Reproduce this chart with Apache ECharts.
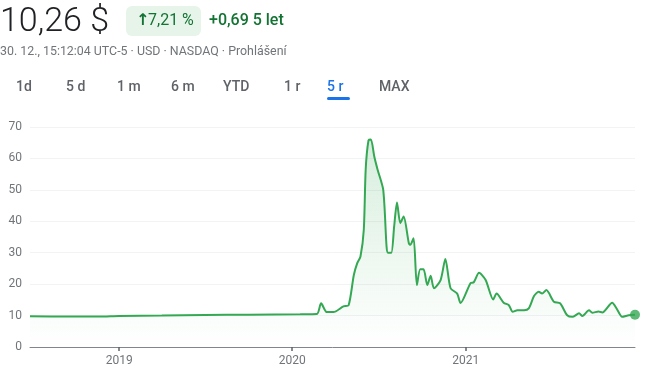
<!DOCTYPE html>
<html><head><meta charset="utf-8">
<script src="https://cdn.jsdelivr.net/npm/echarts@6/dist/echarts.min.js"></script>
<style>html,body{margin:0;padding:0;background:#fff}#c{width:650px;height:376px}</style>
</head><body><div id="c"></div>
<script>
const dates = [
 '2018-06-27','2018-09-15','2018-11-20','2019-01-01','2019-04-01','2019-07-01','2019-10-01','2020-01-18','2020-02-22',
 '2020-03-02','2020-03-14','2020-03-28','2020-04-18','2020-04-29','2020-05-10','2020-05-17','2020-05-24','2020-05-31','2020-06-04',
 '2020-06-10','2020-06-15','2020-06-22','2020-06-29','2020-07-11','2020-07-18','2020-07-21','2020-07-28','2020-08-03','2020-08-09',
 '2020-08-16','2020-08-23','2020-09-03','2020-09-06','2020-09-13','2020-09-20','2020-09-27','2020-10-04','2020-10-12','2020-10-19',
 '2020-10-26','2020-11-09','2020-11-19','2020-11-30','2020-12-14','2020-12-21','2021-01-11','2021-01-18','2021-01-29','2021-02-12',
 '2021-02-28','2021-03-07','2021-03-22','2021-04-02','2021-04-10','2021-04-20','2021-05-04','2021-05-14','2021-05-25','2021-06-04',
 '2021-06-11','2021-06-20','2021-07-06','2021-07-19','2021-08-03','2021-08-14','2021-08-28','2021-09-04','2021-09-18','2021-09-25',
 '2021-10-08','2021-10-16','2021-11-06','2021-11-15','2021-11-27','2021-12-11','2021-12-24'
];
const prices = [
 9.8,9.7,9.7,9.9,10.0,10.2,10.3,10.4,10.5,
 13.9,11.1,11.1,12.9,13.3,22.9,26.6,28.8,37.3,56.5,
 65.8,66.0,60.7,56.5,50.0,32.0,30.0,30.0,38.3,46.0,
 39.4,41.5,33.0,32.5,34.6,19.7,24.7,24.7,19.7,22.7,
 18.7,21.3,28.0,18.7,17.0,14.0,20.3,20.6,23.6,21.3,
 15.1,17.0,14.1,13.3,11.2,11.7,11.7,12.3,16.2,17.6,
 17.0,18.1,14.4,13.9,10.1,9.6,10.7,9.9,11.7,10.9,
 11.3,11.0,14.1,12.3,9.6,10.1,10.26
];
const yearTicks = ['2019-01-01','2020-01-01','2021-01-01'];
const tabs = ['1d','5 d','1 m','6 m','YTD','1 r','5 r','MAX'];
const tabX = [16,66,117,171,223,284,327,379];
const selectedTab = 6;

const toTs = s => { const p = s.split('-').map(Number); return Date.UTC(p[0], p[1]-1, p[2]); };
const series = dates.map((d,i)=>[toTs(d), prices[i]]);
const last = series[series.length-1];
const green = '#34A853';
const font = 'Roboto, Arial, sans-serif';

const graphics = [
 {type:'text', x:0, y:22, style:{text:'10,26 $', font:'300 34px '+font, fill:'#202124', verticalAlign:'middle'}},
 {type:'rect', shape:{x:126,y:6,width:75,height:30,r:6}, style:{fill:'#e6f4ea'}},
 {type:'text', x:136, y:21, style:{text:'↑', font:'700 16px "DejaVu Sans", sans-serif', fill:'#137333', verticalAlign:'middle'}},
 {type:'text', x:148, y:21, style:{text:'7,21 %', font:'400 16px '+font, fill:'#137333', verticalAlign:'middle'}},
 {type:'text', x:209, y:21, style:{text:'+0,69 5 let', font:'500 16px '+font, fill:'#137333', verticalAlign:'middle'}},
 {type:'text', x:0, y:52, style:{text:'30. 12., 15:12:04 UTC-5 · USD · NASDAQ · Prohlášení', font:'400 12.4px '+font, fill:'#70757a', verticalAlign:'middle'}},
 {type:'rect', shape:{x:327,y:97,width:23,height:3,r:1.5}, style:{fill:'#1a73e8'}}
];
tabs.forEach((t,i)=>{
 graphics.push({type:'text', x:tabX[i], y:87, style:{text:t, font:'500 14px '+font, fill: i===selectedTab?'#1a73e8':'#5f6368', verticalAlign:'middle'}});
});

const chart = echarts.init(document.getElementById('c'));
chart.setOption({
 animation:false,
 graphic: graphics,
 grid:{left:30, right:15, top:127, bottom:29},
 xAxis:{
  type:'value', min:toTs(dates[0]), max:last[0], scale:true,
  axisLine:{lineStyle:{color:'#80868b', width:1}},
  axisTick:{show:true, length:4, lineStyle:{color:'#5f6368', width:1.5}, customValues: yearTicks.map(toTs)},
  axisLabel:{customValues: yearTicks.map(toTs), formatter: v => String(new Date(v).getUTCFullYear()), color:'#70757a', fontSize:12, fontFamily:font, margin:8},
  splitLine:{show:false}
 },
 yAxis:{
  type:'value', min:0, max:70, interval:10,
  axisLine:{show:false}, axisTick:{show:false},
  axisLabel:{color:'#70757a', fontSize:12, fontFamily:font, margin:8},
  splitLine:{lineStyle:{color:'#f1f3f4', width:1}}
 },
 series:[
  {type:'line', data:series, showSymbol:false, smooth:0.25,
   lineStyle:{color:green, width:2},
   areaStyle:{color:new echarts.graphic.LinearGradient(0,0,0,1,[{offset:0,color:'rgba(52,168,83,0.28)'},{offset:1,color:'rgba(52,168,83,0)'}])}},
  {type:'scatter', data:[last], symbolSize:10, itemStyle:{color:green}}
 ]
});
</script></body></html>
